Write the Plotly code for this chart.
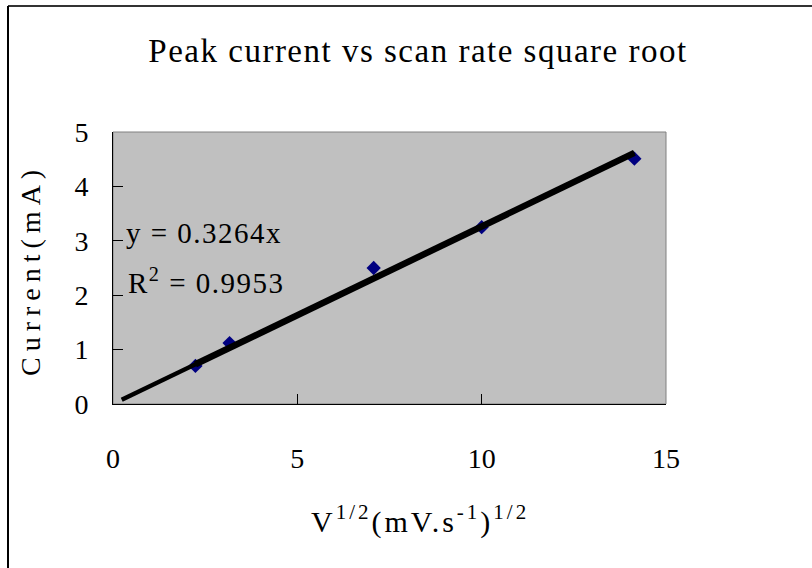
import plotly.graph_objects as go

# Scan-rate square root (mV/s)^1/2 and measured peak current (mA)
sqrt_scan_rate = [2.236, 3.162, 7.071, 10.0, 14.142]
peak_current = [0.70, 1.12, 2.50, 3.25, 4.51]

# Linear trendline forced through the origin
slope = 0.3264
r_squared = 0.9953
backward_forecast = 2.0

x_ticks = [0, 5, 10, 15]
y_ticks = [0, 1, 2, 3, 4, 5]

FONT = "Liberation Serif"
W, H = 812, 568
L, R, T, B = 113, 666, 132, 404  # plot area in pixels


def px_x(px):
    return (px - L) / (R - L)


def px_y(py):
    return (B - py) / (B - T)


def spaced(text, px):
    return f'<span style="letter-spacing:{px}px">{text}</span>'


fig = go.Figure()

fig.add_trace(go.Scatter(
    x=sqrt_scan_rate, y=peak_current, mode="markers",
    marker=dict(symbol="diamond", size=11, color="#000080",
                line=dict(width=0)),
    showlegend=False, hoverinfo="skip",
))

# trendline extended backwards
x_full = [sqrt_scan_rate[0] - backward_forecast, sqrt_scan_rate[-1]]
fig.add_trace(go.Scatter(
    x=x_full, y=[slope * v for v in x_full], mode="lines",
    line=dict(color="black", width=4.5),
    showlegend=False, hoverinfo="skip",
))
# trendline over the measured range
x_data = [sqrt_scan_rate[0], sqrt_scan_rate[-1]]
fig.add_trace(go.Scatter(
    x=x_data, y=[slope * v for v in x_data], mode="lines",
    line=dict(color="black", width=6.5),
    showlegend=False, hoverinfo="skip",
))

axis_common = dict(
    showgrid=False, zeroline=False, showline=True, linecolor="black",
    linewidth=1, ticks="inside", ticklen=10, tickcolor="black",
    tickwidth=1, tickfont=dict(family=FONT, size=28, color="black"),
)

fig.update_xaxes(range=[0, 15], tickvals=x_ticks, ticklabelstandoff=29,
                 **axis_common)
fig.update_yaxes(range=[0, 5], tickvals=y_ticks, ticklabelstandoff=18,
                 **axis_common)

shapes = [
    # plot area frame (grey on the top and right)
    dict(type="rect", xref="paper", yref="paper", x0=0, x1=1, y0=0, y1=1,
         line=dict(color="#808080", width=1), fillcolor="rgba(0,0,0,0)",
         layer="below"),
    # chart area border
    dict(type="line", xref="paper", yref="paper",
         x0=px_x(8), x1=px_x(W + 5), y0=px_y(6), y1=px_y(6),
         line=dict(color="#333333", width=2)),
    dict(type="line", xref="paper", yref="paper",
         x0=px_x(8), x1=px_x(8), y0=px_y(6), y1=px_y(H + 5),
         line=dict(color="black", width=2)),
]

annotations = [
    dict(text=spaced(f"y = {slope:.4f}x", 1.5), xref="x", yref="y",
         x=px_x(124) * 15, y=px_y(233) * 5, xanchor="left", yanchor="middle",
         showarrow=False, font=dict(family=FONT, size=29, color="black")),
    dict(text=spaced(f"R<sup>2</sup> = {r_squared:.4f}", 1.5),
         xref="x", yref="y",
         x=px_x(126) * 15, y=px_y(281) * 5, xanchor="left", yanchor="middle",
         showarrow=False, font=dict(family=FONT, size=29, color="black")),
    dict(text=spaced("V<sup>1/2</sup>(mV.s<sup>-1</sup>)<sup>1/2</sup>", 3),
         xref="paper", yref="paper", x=px_x(420), y=px_y(519),
         xanchor="center", yanchor="middle", showarrow=False,
         font=dict(family=FONT, size=30, color="black")),
    dict(text=spaced("Current(mA)", 6),
         xref="paper", yref="paper", x=px_x(30), y=px_y(270),
         xanchor="center", yanchor="middle", textangle=-90, showarrow=False,
         font=dict(family=FONT, size=28, color="black")),
]

fig.update_layout(
    width=W, height=H,
    margin=dict(l=L, r=W - R, t=T, b=H - B),
    paper_bgcolor="white", plot_bgcolor="#C0C0C0",
    title=dict(text=spaced("Peak current vs scan rate square root", 1.5),
               x=418 / W, xanchor="center", y=1 - 50 / H, yanchor="middle",
               font=dict(family=FONT, size=33, color="black")),
    shapes=shapes, annotations=annotations,
)

fig.write_html("out.html")
